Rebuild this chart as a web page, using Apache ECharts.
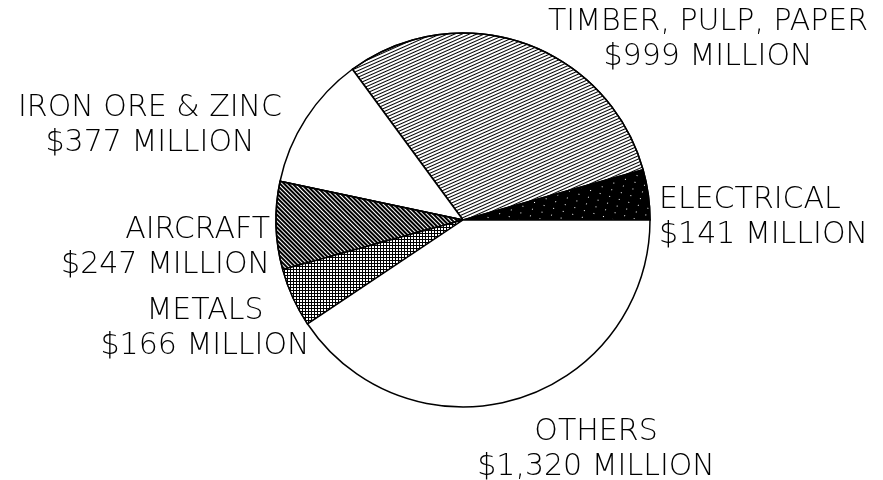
<!DOCTYPE html>
<html>
<head>
<meta charset="utf-8">
<script src="https://cdn.jsdelivr.net/npm/echarts@6/dist/echarts.min.js"></script>
<style>
html,body{margin:0;padding:0;background:#fff;}
#main{width:883px;height:480px;}
</style>
</head>
<body>
<div id="main"></div>
<script>
// ---- data ----
const categories = ['ELECTRICAL', 'TIMBER, PULP, PAPER', 'IRON ORE & ZINC', 'AIRCRAFT', 'METALS', 'OTHERS'];
const values = [141, 999, 377, 247, 166, 1320];
const unitSuffix = ' MILLION';

// ---- layout / style (not data) ----
const labelPos = [
  {x: 659, y: 218, align: 'left'},
  {x: 708, y: 40, align: 'center'},
  {x: 150, y: 126, align: 'center'},
  {x: 270, y: 248, align: 'right'},
  {x: 205, y: 329, align: 'center'},
  {x: 596, y: 450, align: 'center'}
];
const fills = [
  {color: '#000', decal: {symbol: 'rect', symbolSize: 1, color: '#ffffff', dashArrayX: [1, 9], dashArrayY: [1, 6], rotation: 0.3}},
  {color: '#fff', decal: {symbol: 'rect', symbolSize: 1, color: '#000', dashArrayX: [1, 0], dashArrayY: [1, 2], rotation: -0.42}},
  {color: '#fff', decal: null},
  {color: '#fff', decal: {symbol: 'rect', symbolSize: 1, color: '#000', dashArrayX: [1, 0], dashArrayY: [2, 1], rotation: Math.PI / 4}},
  {color: '#000', decal: {symbol: 'rect', symbolSize: 1, color: '#fff', dashArrayX: [2, 1], dashArrayY: [2, 1], rotation: 0}},
  {color: '#fff', decal: null}
];

const chart = echarts.init(document.getElementById('main'), null, {renderer: 'canvas'});
const data = categories.map((name, i) => {
  const it = {name: name, value: values[i], itemStyle: {color: fills[i].color, borderColor: '#000', borderWidth: 1.5}};
  if (fills[i].decal) it.itemStyle.decal = fills[i].decal;
  return it;
});

chart.setOption({
  backgroundColor: '#fff',
  animation: false,
  series: [{
    type: 'pie',
    center: [463, 220],
    radius: 187,
    startAngle: 0,
    clockwise: false,
    avoidLabelOverlap: false,
    silent: true,
    data: data,
    label: {
      show: true,
      position: 'outside',
      formatter: p => p.name + '\n$' + p.value.toLocaleString('en-US') + unitSuffix,
      fontFamily: 'DejaVu Sans',
      fontWeight: 200,
      fontSize: 30,
      lineHeight: 35,
      color: '#000'
    },
    labelLine: {show: false},
    labelLayout: function (params) {
      const p = labelPos[params.dataIndex];
      return {x: p.x, y: p.y, align: p.align, verticalAlign: 'middle', hideOverlap: false, moveOverlap: false};
    },
    emphasis: {disabled: true}
  }]
});
</script>
</body>
</html>
